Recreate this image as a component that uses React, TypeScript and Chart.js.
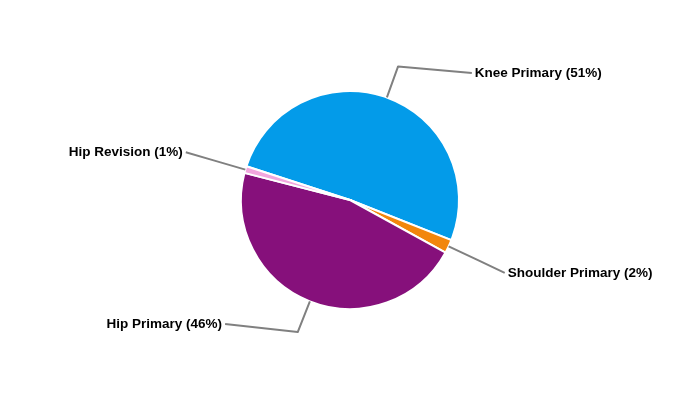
import React, { useEffect, useRef } from "react";
import { Chart, registerables } from "chart.js";

Chart.register(...registerables);

const categories = ["Knee Primary", "Shoulder Primary", "Hip Primary", "Hip Revision"];
const values = [51, 2, 46, 1];
const colors = ["#039BE9", "#F2860C", "#86107B", "#F2A6DE"];

const labelPlugin = {
  id: "pieLabels",
  afterDraw(chart: any) {
    const ctx = chart.ctx;
    const meta = chart.getDatasetMeta(0);
    const total = values.reduce((a, b) => a + b, 0);
    ctx.save();
    meta.data.forEach((arc: any, i: number) => {
      const p = arc.getProps(["x", "y", "startAngle", "endAngle", "outerRadius"], true);
      const mid = (p.startAngle + p.endAngle) / 2;
      const cos = Math.cos(mid);
      const sin = Math.sin(mid);
      const r = p.outerRadius;
      const ex = p.x + r * cos;
      const ey = p.y + r * sin;
      const bx = p.x + (r + 33) * cos;
      const by = p.y + (r + 33) * sin;
      const R = r + 62;
      let dy = R * sin;
      const clamped = dy < -127 || dy > 124;
      dy = Math.max(-127, Math.min(124, dy));
      const RX = clamped ? R + 5 : R;
      const dx = Math.sqrt(Math.max(0, RX * RX - dy * dy));
      const right = cos > 0;
      const lx = right ? p.x + dx : p.x - dx;
      const ly = p.y + dy;
      ctx.strokeStyle = "#808080";
      ctx.lineWidth = 2;
      ctx.lineJoin = "round";
      ctx.beginPath();
      ctx.moveTo(ex, ey);
      ctx.lineTo(bx, by);
      ctx.lineTo(lx, ly);
      ctx.stroke();
      const pct = Math.round((values[i] / total) * 100);
      ctx.fillStyle = "#000000";
      ctx.font = "bold 13.5px 'Liberation Sans', Arial, sans-serif";
      ctx.textBaseline = "middle";
      ctx.textAlign = right ? "left" : "right";
      ctx.fillText(`${categories[i]} (${pct}%)`, right ? lx + 3 : lx - 3, ly);
    });
    ctx.restore();
  },
};

export default function App() {
  const ref = useRef<HTMLCanvasElement>(null);
  useEffect(() => {
    if (!ref.current) return;
    const chart = new Chart(ref.current, {
      type: "pie",
      data: {
        labels: categories,
        datasets: [
          {
            data: values,
            backgroundColor: colors,
            borderColor: "#ffffff",
            borderWidth: 2,
          },
        ],
      },
      options: {
        responsive: false,
        animation: false,
        rotation: -72,
        layout: { padding: { top: 90, bottom: 90, left: 0, right: 0 } },
        plugins: {
          legend: { display: false },
          tooltip: { enabled: false },
        },
      },
      plugins: [labelPlugin],
    });
    return () => chart.destroy();
  }, []);
  return (
    <div style={{ position: "fixed", left: 0, top: 0, width: 700, height: 400, background: "#fff" }}>
      <canvas ref={ref} width={700} height={400} style={{ width: 700, height: 400 }} />
    </div>
  );
}
